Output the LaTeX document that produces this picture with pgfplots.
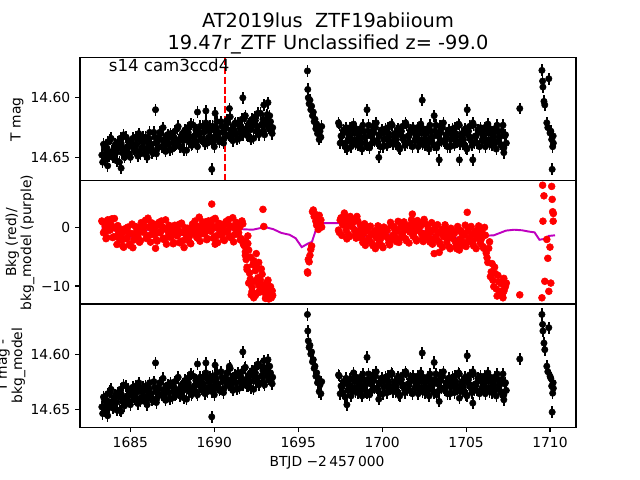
\documentclass[border=0pt]{standalone}
\usepackage{fontspec}
\setmainfont{DejaVu Sans}
\usepackage{pgfplots}
\usepackage{pgfplotstable}
\pgfplotsset{compat=1.18}
\definecolor{mpurple}{rgb}{0.75,0,0.75}

% t = BTJD-2457000, a = T mag, c = T mag - bkg_model, k = Bkg
\pgfplotstableread{
t a c k
1683.3 14.648 14.648 1.03
1683.4 14.639 14.639 -0.97
1683.5 14.652 14.652 0.13
1683.6 14.642 14.642 -1.77
1683.7 14.649 14.648 0.73
1683.8 14.635 14.634 -0.5
1683.9 14.645 14.643 1.4
1684.0 14.650 14.649 -1.65
1684.1 14.639 14.637 -0.15
1684.2 14.653 14.651 -2.95
1684.3 14.642 14.639 -1.0
1684.4 14.634 14.632 -0.35
1684.5 14.646 14.643 -2.2
1684.6 14.631 14.628 -3.43
1684.7 14.648 14.644 -0.26
1684.8 14.641 14.638 -1.89
1684.9 14.636 14.632 -1.02
1685.0 14.650 14.646 -3.15
1685.1 14.638 14.634 0.5
1685.2 14.643 14.639 -2.2
1685.3 14.633 14.629 0.1
1685.4 14.645 14.641 -1.75
1685.5 14.630 14.626 -0.55
1685.6 14.647 14.643 -2.3
1685.7 14.637 14.634 0.3
1685.8 14.642 14.638 -0.88
1685.9 14.633 14.629 1.15
1686.0 14.650 14.646 -1.7
1686.1 14.634 14.631 0.02
1686.2 14.639 14.636 -2.56
1686.3 14.646 14.642 -0.35
1686.4 14.629 14.625 0.5
1686.5 14.638 14.634 -1.15
1686.6 14.643 14.640 -2.38
1686.7 14.634 14.631 0.78
1686.8 14.630 14.626 -0.85
1686.9 14.641 14.637 0.02
1687.0 14.635 14.632 -2.12
1687.1 14.645 14.642 1.22
1687.2 14.631 14.628 -1.73
1687.3 14.639 14.635 0.31
1687.4 14.630 14.626 -1.74
1687.5 14.643 14.640 -0.7
1687.6 14.633 14.630 -2.65
1687.7 14.640 14.637 -0.22
1687.8 14.626 14.622 -1.5
1687.9 14.635 14.632 0.45
1688.0 14.641 14.638 -2.5
1688.1 14.630 14.627 -0.87
1688.2 14.644 14.640 -3.47
1688.3 14.633 14.629 -1.18
1688.4 14.625 14.622 -0.2
1688.5 14.637 14.634 -1.72
1688.6 14.622 14.618 -2.83
1688.7 14.639 14.635 0.5
1688.8 14.632 14.629 -0.95
1688.9 14.627 14.624 0.1
1689.0 14.641 14.637 -1.87
1689.1 14.629 14.625 1.68
1689.2 14.634 14.630 -1.2
1689.3 14.624 14.621 0.88
1689.4 14.636 14.632 -1.13
1689.5 14.621 14.617 -0.04
1689.6 14.638 14.634 -1.95
1689.7 14.628 14.625 0.52
1689.8 14.633 14.629 -0.72
1689.9 14.624 14.620 1.23
1690.0 14.641 14.637 -1.71
1690.1 14.625 14.622 -0.05
1690.2 14.630 14.627 -2.64
1690.3 14.637 14.633 -0.42
1690.4 14.620 14.616 0.49
1690.5 14.629 14.625 -1.09
1690.6 14.634 14.631 -2.28
1690.7 14.625 14.622 0.94
1690.8 14.621 14.617 -0.65
1690.9 14.632 14.628 0.26
1691.0 14.627 14.623 -1.83
1691.1 14.636 14.633 1.59
1691.2 14.622 14.619 -1.3
1691.3 14.630 14.626 0.82
1691.4 14.621 14.617 -1.17
1691.5 14.634 14.631 -0.06
1691.6 14.624 14.621 -1.96
1691.7 14.631 14.628 0.53
1691.8 14.617 14.613 -3.2
1691.9 14.626 14.623 -5.5
1692.0 14.632 14.629 -2.8
1692.1 14.621 14.618 -7.8
1692.2 14.635 14.631 -11.5
1692.3 14.623 14.620 -6.4
1692.4 14.616 14.613 -9.2
1692.5 14.628 14.625 -4.5
1692.6 14.613 14.609 -8.6
1692.7 14.629 14.626 -10.8
1692.8 14.623 14.620 -7.1
1692.9 14.618 14.615 3.0
1693.0 14.631 14.628 -9.8
1693.1 14.619 14.616 -11.8
1693.2 14.624 14.621 -10.3
1693.3 14.615 14.611 -11.4
1693.4 14.627 14.623 -12.0
1693.48 14.625 14.621 -11.6
1683.65 14.657 14.656 -0.6
1684.45 14.659 14.652 -1.3
1686.5 14.610 14.608 -3.6
1689.0 14.612 14.609 -0.9
1689.5 14.611 14.608 0.9
1689.85 14.660 14.657 3.9
1690.05 14.613 14.610 -2.9
1690.9 14.609 14.611 -1.6
1691.7 14.600 14.598 -2.6
1692.95 14.606 14.606 0.1
1693.2 14.604 14.605 -9.0
1695.55 14.5775 14.564 -7.6
1695.57 14.593 14.579 -7.8
1695.60 14.600 14.588 -5.5
1695.65 14.605 14.594 -5.9
1695.70 14.602 14.592 -4.8
1695.75 14.610 14.600 -3.8
1695.80 14.607 14.598 -3.2
1695.85 14.615 14.607 2.6
1695.90 14.612 14.605 2.9
1695.95 14.620 14.613 1.8
1696.00 14.618 14.611 2.2
1696.05 14.626 14.620 1.0
1696.10 14.622 14.617 0.3
1696.15 14.630 14.626 1.5
1696.20 14.625 14.622 -0.4
1696.25 14.635 14.634 2.0
1696.30 14.628 14.628 0.6
1696.35 14.633 14.636 1.2
1696.40 14.624 14.625 0.0
1697.4 14.621 14.619 -0.52
1697.5 14.638 14.636 1.18
1697.6 14.632 14.630 -1.42
1697.7 14.627 14.625 0.78
1697.8 14.641 14.639 1.68
1697.9 14.629 14.627 0.08
1698.0 14.634 14.632 -1.25
1698.1 14.625 14.623 1.8
1698.2 14.637 14.632 0.1
1698.3 14.622 14.617 0.85
1698.4 14.639 14.634 -1.35
1698.5 14.630 14.625 1.8
1698.6 14.635 14.630 -1.45
1698.7 14.626 14.621 0.35
1698.8 14.643 14.638 -1.9
1698.9 14.628 14.623 -1.05
1699.0 14.633 14.628 -3.1
1699.1 14.640 14.635 -0.65
1699.2 14.623 14.618 -1.85
1699.3 14.632 14.627 0.15
1699.4 14.638 14.633 -2.75
1699.5 14.629 14.624 -1.05
1699.6 14.625 14.620 -3.65
1699.7 14.636 14.631 -1.4
1699.8 14.631 14.626 -0.47
1699.9 14.641 14.636 -2.03
1700.0 14.627 14.622 -3.2
1700.1 14.635 14.630 0.0
1700.2 14.626 14.621 -1.55
1700.3 14.640 14.635 -0.6
1700.4 14.630 14.625 -2.65
1700.5 14.637 14.632 0.79
1700.6 14.623 14.618 -2.07
1700.7 14.633 14.628 0.07
1700.8 14.639 14.634 -1.89
1700.9 14.628 14.623 -0.75
1701.0 14.642 14.637 -2.6
1701.1 14.631 14.626 -0.05
1701.2 14.624 14.619 -1.18
1701.3 14.636 14.631 0.88
1701.4 14.621 14.616 -1.98
1701.5 14.638 14.633 -0.22
1701.6 14.632 14.627 -2.7
1701.7 14.627 14.622 -0.4
1701.8 14.641 14.636 0.6
1701.9 14.629 14.624 -0.9
1702.0 14.634 14.629 -2.0
1702.1 14.625 14.620 1.1
1702.2 14.637 14.632 -0.6
1702.3 14.622 14.617 0.2
1702.4 14.639 14.634 -2.0
1702.5 14.630 14.625 1.3
1702.6 14.635 14.630 -1.7
1702.7 14.626 14.621 0.3
1702.8 14.643 14.638 -1.9
1702.9 14.628 14.623 -0.9
1703.0 14.633 14.628 -2.9
1703.1 14.640 14.635 -0.4
1703.2 14.623 14.618 -1.6
1703.3 14.632 14.627 0.4
1703.4 14.638 14.633 -2.5
1703.5 14.629 14.624 -0.8
1703.6 14.625 14.620 -3.4
1703.7 14.636 14.631 -1.2
1703.8 14.631 14.626 -0.35
1703.9 14.641 14.636 -2.0
1704.0 14.627 14.622 -3.35
1704.1 14.635 14.630 -0.2
1704.2 14.626 14.621 -1.9
1704.3 14.640 14.635 -1.1
1704.4 14.630 14.625 -3.2
1704.5 14.637 14.632 0.1
1704.6 14.623 14.618 -2.8
1704.7 14.633 14.628 -0.65
1704.8 14.639 14.634 -2.6
1704.9 14.628 14.623 -1.4
1705.0 14.642 14.637 -3.3
1705.1 14.631 14.626 -0.7
1705.2 14.624 14.619 -1.9
1705.3 14.636 14.631 0.1
1705.4 14.621 14.616 -2.8
1705.5 14.638 14.633 -1.05
1705.6 14.632 14.627 -3.65
1705.7 14.627 14.622 -1.4
1705.8 14.641 14.636 -0.5
1705.9 14.629 14.624 -2.1
1706.0 14.634 14.629 -3.3
1706.1 14.625 14.620 -0.05
1706.2 14.637 14.632 -4.4
1706.3 14.622 14.617 -6.0
1706.4 14.639 14.634 -2.5
1706.5 14.630 14.625 -7.6
1706.6 14.635 14.630 -9.0
1706.7 14.626 14.621 -6.8
1706.8 14.643 14.638 -10.5
1706.9 14.628 14.623 -8.2
1707.0 14.633 14.628 -11.2
1707.1 14.640 14.635 -9.6
1707.2 14.623 14.618 -12.0
1707.3 14.632 14.627 -10.4
1707.4 14.638 14.633 -9.5
1702.39 14.602 14.599 -1.1
1705.07 14.610 14.6015 2.5
1699.1 14.610 14.603 -0.3
1703.1 14.615 14.6076 -4.5
1703.4 14.652 14.643 -4.3
1699.8 14.650 14.641 -2.9
1704.6 14.652 14.640 -3.9
1705.4 14.652 14.6445 -2.4
1707.25 14.646 14.6415 -10.9
1697.9 14.643 14.646 -2.0
1701.8 14.625 14.620 2.2
1708.2 14.609 14.6045 -11.5
1709.52 14.577 14.564 -12.0
1709.56 14.586 14.573 7.1
1709.58 14.591 14.579 1.0
1709.64 14.603 14.590 5.3
1709.69 14.606 14.596 -9.2
1709.81 14.621 14.611 -2.1
1709.87 14.625 14.616 -5.3
1709.93 14.584 14.576 -10.9
1710.00 14.6295 14.620 -3.4
1710.05 14.628 14.622 -9.5
1710.10 14.635 14.629 6.9
1710.13 14.660 14.6527 4.7
1710.16 14.641 14.6355 2.6
1710.19 14.632 14.626 1.0
1710.20 14.638 14.631 2.3
}\dat

% the cadences in between
\pgfplotstableread{
t a c k
1683.35 14.654 14.654 0.83
1683.45 14.642 14.641 -0.77
1683.55 14.646 14.646 -1.97
1683.65 14.637 14.636 1.23
1683.75 14.649 14.648 -0.37
1683.85 14.634 14.632 0.45
1683.95 14.650 14.649 -1.78
1684.05 14.641 14.640 1.45
1684.15 14.646 14.644 -1.62
1684.25 14.637 14.635 0.25
1684.35 14.654 14.651 -2.0
1684.45 14.638 14.636 -1.18
1684.55 14.643 14.640 -3.22
1684.65 14.650 14.647 -0.75
1684.75 14.633 14.629 -1.98
1684.85 14.641 14.638 -0.01
1684.95 14.647 14.643 -2.94
1685.05 14.638 14.634 -1.1
1685.15 14.634 14.630 -3.5
1685.25 14.644 14.641 -1.1
1685.35 14.639 14.635 0.0
1685.45 14.649 14.645 -1.5
1685.55 14.635 14.631 -2.58
1685.65 14.642 14.639 0.75
1685.75 14.633 14.630 -0.8
1685.85 14.647 14.643 0.13
1685.95 14.637 14.633 -1.93
1686.05 14.643 14.640 1.51
1686.15 14.629 14.626 -1.37
1686.25 14.639 14.636 0.74
1686.35 14.645 14.641 -1.26
1686.45 14.633 14.630 -0.2
1686.55 14.647 14.644 -2.16
1686.65 14.636 14.633 0.3
1686.75 14.629 14.626 -0.93
1686.85 14.641 14.637 1.03
1686.95 14.625 14.622 -1.9
1687.05 14.642 14.639 -0.25
1687.15 14.636 14.633 -2.9
1687.25 14.631 14.628 -0.76
1687.35 14.644 14.641 0.08
1687.45 14.632 14.629 -1.57
1687.55 14.637 14.634 -2.83
1687.65 14.628 14.625 0.31
1687.75 14.639 14.636 -1.36
1687.85 14.624 14.621 -0.52
1687.95 14.641 14.638 -2.68
1688.05 14.632 14.629 0.67
1688.15 14.636 14.633 -2.29
1688.25 14.627 14.624 -0.12
1688.35 14.644 14.641 -2.04
1688.45 14.629 14.626 -0.86
1688.55 14.633 14.631 -2.67
1688.65 14.640 14.637 -0.08
1688.75 14.623 14.620 -1.12
1688.85 14.632 14.629 1.02
1688.95 14.637 14.635 -1.73
1689.05 14.628 14.625 0.1
1689.15 14.624 14.621 -2.4
1689.25 14.635 14.632 -0.21
1689.35 14.629 14.627 0.68
1689.45 14.639 14.636 -0.93
1689.55 14.625 14.622 -2.14
1689.65 14.633 14.630 1.04
1689.75 14.624 14.621 -0.6
1689.85 14.637 14.634 0.25
1689.95 14.627 14.624 -1.89
1690.05 14.634 14.631 1.47
1690.15 14.620 14.617 -1.45
1690.25 14.629 14.627 0.67
1690.35 14.635 14.632 -1.32
1690.45 14.624 14.621 -0.2
1690.55 14.638 14.635 -2.09
1690.65 14.626 14.624 0.43
1690.75 14.619 14.617 -0.76
1690.85 14.631 14.628 1.25
1690.95 14.616 14.613 -1.64
1691.05 14.632 14.630 0.08
1691.15 14.626 14.624 -2.51
1691.25 14.621 14.619 -0.29
1691.35 14.635 14.632 0.62
1691.45 14.622 14.620 -0.97
1691.55 14.627 14.625 -2.16
1691.65 14.618 14.616 1.04
1691.75 14.630 14.628 -2.9
1691.85 14.615 14.612 -4.8
1691.95 14.631 14.629 -7.2
1692.05 14.622 14.620 -3.9
1692.15 14.627 14.625 -8.8
1692.25 14.618 14.615 -10.9
1692.35 14.634 14.632 -5.7
1692.45 14.619 14.617 -11.6
1692.55 14.624 14.622 -6.9
1692.65 14.631 14.628 -9.9
1692.75 14.613 14.611 -11.0
1692.85 14.622 14.620 -8.0
1692.95 14.628 14.626 -10.0
1693.05 14.619 14.616 -11.3
1693.15 14.614 14.612 -10.6
1693.25 14.625 14.623 -12.2
1693.35 14.620 14.617 -11.9
1693.45 14.630 14.627 -10.8
1697.45 14.623 14.620 -0.92
1697.55 14.632 14.629 1.58
1697.65 14.638 14.635 0.38
1697.75 14.629 14.626 2.38
1697.85 14.625 14.622 -0.52
1697.95 14.636 14.633 1.12
1698.05 14.631 14.628 -1.63
1698.15 14.641 14.638 0.45
1698.25 14.627 14.622 1.22
1698.35 14.635 14.630 -0.5
1698.45 14.626 14.621 -1.88
1698.55 14.640 14.635 1.02
1698.65 14.630 14.625 -0.9
1698.75 14.637 14.632 -0.28
1698.85 14.623 14.618 -2.62
1698.95 14.633 14.628 0.57
1699.05 14.639 14.634 -2.42
1699.15 14.628 14.623 -0.35
1699.25 14.642 14.637 -2.35
1699.35 14.631 14.626 -1.25
1699.45 14.624 14.619 -3.15
1699.55 14.636 14.631 -0.65
1699.65 14.621 14.616 -1.82
1699.75 14.638 14.633 0.21
1699.85 14.632 14.627 -2.65
1699.95 14.627 14.622 -0.92
1700.05 14.641 14.636 -3.48
1700.15 14.629 14.624 -1.25
1700.25 14.634 14.629 -0.31
1700.35 14.625 14.620 -1.88
1700.45 14.637 14.632 -3.03
1700.55 14.622 14.617 0.21
1700.65 14.639 14.634 -1.35
1700.75 14.630 14.625 -0.41
1700.85 14.635 14.630 -2.47
1700.95 14.626 14.621 0.97
1701.05 14.643 14.638 -1.87
1701.15 14.628 14.623 0.27
1701.25 14.633 14.628 -1.67
1701.35 14.640 14.635 -0.51
1701.45 14.623 14.618 -2.35
1701.55 14.632 14.627 0.24
1701.65 14.638 14.633 -0.85
1701.75 14.629 14.624 1.25
1701.85 14.625 14.620 -1.55
1701.95 14.636 14.631 0.25
1702.05 14.631 14.626 -2.35
1702.15 14.641 14.636 -0.25
1702.25 14.627 14.622 0.55
1702.35 14.635 14.630 -1.15
1702.45 14.626 14.621 -2.45
1702.55 14.640 14.635 0.65
1702.65 14.630 14.625 -1.07
1702.75 14.637 14.632 -0.32
1702.85 14.623 14.618 -2.55
1702.95 14.633 14.628 0.75
1703.05 14.639 14.634 -2.2
1703.15 14.628 14.623 -0.1
1703.25 14.642 14.637 -2.1
1703.35 14.631 14.626 -1.0
1703.45 14.624 14.619 -2.9
1703.55 14.636 14.631 -0.4
1703.65 14.621 14.616 -1.6
1703.75 14.638 14.633 0.38
1703.85 14.632 14.627 -2.6
1703.95 14.627 14.622 -1.0
1704.05 14.641 14.636 -3.68
1704.15 14.629 14.624 -1.55
1704.25 14.634 14.629 -0.75
1704.35 14.625 14.620 -2.42
1704.45 14.637 14.632 -3.68
1704.55 14.622 14.617 -0.48
1704.65 14.639 14.634 -2.02
1704.75 14.630 14.625 -1.08
1704.85 14.635 14.630 -3.12
1704.95 14.626 14.621 0.32
1705.05 14.643 14.638 -2.55
1705.15 14.628 14.623 -0.42
1705.25 14.633 14.628 -2.4
1705.35 14.640 14.635 -1.3
1705.45 14.623 14.618 -3.2
1705.55 14.632 14.627 -0.65
1705.65 14.638 14.633 -1.85
1705.75 14.629 14.624 0.2
1705.85 14.625 14.620 -2.7
1705.95 14.636 14.631 -1.0
1706.05 14.631 14.626 -3.6
1706.15 14.641 14.636 -1.38
1706.25 14.627 14.622 -5.2
1706.35 14.635 14.630 -3.6
1706.45 14.626 14.621 -8.4
1706.55 14.640 14.635 -6.2
1706.65 14.630 14.625 -10.1
1706.75 14.637 14.632 -7.9
1706.85 14.623 14.618 -11.7
1706.95 14.633 14.628 -9.3
1707.05 14.639 14.634 -10.9
1707.15 14.628 14.623 -11.5
1707.25 14.642 14.637 -8.7
1707.35 14.631 14.626 -10.0
}\datb

% further Bkg points
\pgfplotstableread{
t k
1691.65 -2.2
1691.75 -3.0
1691.85 -4.2
1691.9 -2.5
1691.95 -6.8
1692.0 -1.5
1692.05 -9.5
1692.15 -5.1
1692.25 -10.2
1692.35 -12.0
1692.45 -7.4
1692.55 -11.2
1692.65 -6.0
1692.75 -9.0
1692.85 -10.5
1693.05 -12.1
1693.15 -9.4
1693.25 -11.0
1693.35 -10.1
}\bkx

% bkg_model
\pgfplotstableread{
t p
1683.29 -0.17
1683.78 -0.17
1684.14 -0.7
1684.5 -1.6
1684.99 -1.75
1685.36 -1.0
1685.72 -0.6
1686.33 -0.45
1686.94 -0.7
1687.67 -1.1
1688.16 -1.4
1688.64 -1.0
1689.13 -0.3
1689.62 -0.35
1690.10 -0.55
1690.83 -0.45
1691.56 -0.35
1692.29 -0.45
1693.02 0
1693.51 -0.35
1694.0 -1.0
1694.48 -1.3
1694.85 -1.9
1695.21 -3.4
1695.58 -2.8
1695.82 -2.5
1696.05 -0.5
1696.18 0.68
1696.67 0.68
1697.89 0.68
1698.37 0.1
1698.98 -1.5
1699.59 -1.6
1700.32 -1.3
1701.05 -1.0
1701.54 -0.7
1702.02 -0.2
1702.51 -0.7
1703.0 -1.3
1703.73 -1.3
1704.46 -1.9
1705.19 -1.6
1705.92 -1.5
1706.65 -1.4
1707.38 -0.6
1707.86 -0.45
1708.35 -0.55
1708.71 -0.75
1709.08 -0.9
1709.37 -2.15
1709.69 -2.0
1709.93 -1.5
1710.3 -1.4
}\mdl

\pgfplotsset{
  panel/.style={
    scale only axis, width=4.96in, height=1.232in,
    anchor=south west,
    xmin=1682.0, xmax=1711.55,
    axis line style={line width=0.8pt},
    tick align=outside, major tick length=3.5pt,
    tick style={black, line width=0.8pt},
    tick pos=left,
    /pgf/number format/assume math mode=true,
    /pgf/number format/1000 sep={},
    tick label style={font=\fontsize{10}{12}\selectfont},
  },
  lc/.style={black, only marks, mark=*, mark size=2.3pt,
    error bars/.cd, y dir=both, y fixed=#1, error mark=none,
    error bar style={line width=1.1pt, black}},
  rd/.style={red, only marks, mark=*, mark size=2.5pt},
}

\begin{document}
\begin{tikzpicture}
\begin{axis}[panel, at={(0.8in,2.992in)},
  ymin=14.5663, ymax=14.6696, y dir=reverse,
  ytick={14.60,14.65}, yticklabels={14.60,14.65}, xtick=\empty]
\addplot[lc=0.005] table[x=t, y=a] {\dat};
\addplot[lc=0.005] table[x=t, y=a] {\datb};
\addplot[red, line width=1.4pt, dash pattern=on 5pt off 2pt] coordinates {(1690.66,14.5663) (1690.66,14.6696)};
\node[anchor=base west, font=\fontsize{12}{14}\selectfont] at (axis cs:1683.43,14.5778) {s14 cam3ccd4};
\end{axis}

\begin{axis}[panel, at={(0.8in,1.76in)},
  ymin=-13.05, ymax=7.85,
  ytick={-10,0}, yticklabels={−10,0}, xtick=\empty]
\addplot[rd] table[x=t, y=k] {\dat};
\addplot[rd] table[x=t, y=k] {\datb};
\addplot[rd] table[x=t, y=k] {\bkx};
\addplot[mpurple, line width=1.4pt] table[x=t, y=p] {\mdl};
\end{axis}

\begin{axis}[panel, at={(0.8in,0.528in)},
  ymin=14.5545, ymax=14.6664, y dir=reverse,
  ytick={14.60,14.65}, yticklabels={14.60,14.65},
  xtick={1685,1690,1695,1700,1705,1710}]
\addplot[lc=0.0055] table[x=t, y=c] {\dat};
\addplot[lc=0.0055] table[x=t, y=c] {\datb};
\end{axis}

\node[anchor=base, font=\fontsize{14}{17}\selectfont] at (3.28in,4.52in) {AT2019lus\ \ ZTF19abiioum};
\node[anchor=base, font=\fontsize{14}{17}\selectfont] at (3.28in,4.30in) {19.47r\_ZTF Unclassified z= -99.0};
\node[anchor=base, font=\fontsize{10}{12}\selectfont] at (3.27in,0.14in) {BTJD −2\,457\,000};
\node[rotate=90, font=\fontsize{10}{12}\selectfont] at (0.17in,3.605in) {T mag};
\node[rotate=90, align=center, font=\fontsize{10}{11}\selectfont] at (0.2in,2.375in) {Bkg (red)/\\bkg\_model (purple)};
\node[rotate=90, align=center, font=\fontsize{10}{11}\selectfont] at (0.11in,1.145in) {T mag -\\bkg\_model};

\pgfresetboundingbox
\path[use as bounding box] (0,0) rectangle (6.4in,4.8in);
\end{tikzpicture}
\end{document}
